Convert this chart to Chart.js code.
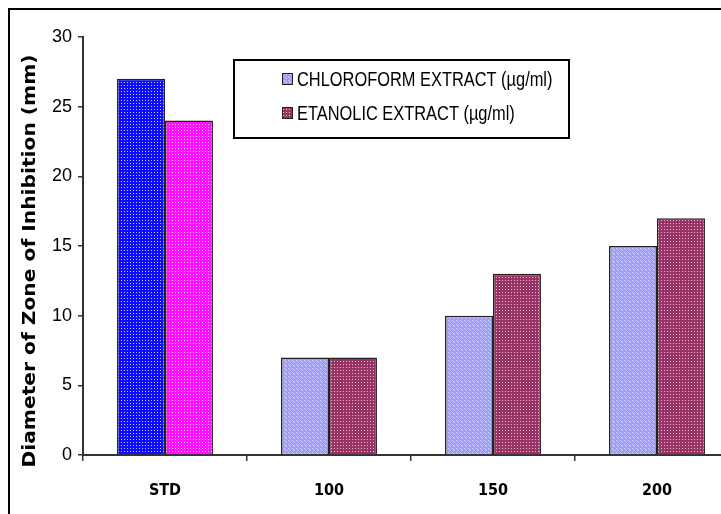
<!DOCTYPE html>
<html>
<head>
<meta charset="utf-8">
<script src="https://cdn.jsdelivr.net/npm/chart.js@4/dist/chart.umd.min.js"></script>
<style>
  html, body { margin: 0; padding: 0; background: #fff; overflow: hidden; width: 721px; height: 514px; }
  #frame { position: absolute; left: 8px; top: 8px; width: 800px; height: 600px; border: 2px solid #000; box-sizing: border-box; }
  #wrap { position: absolute; left: 0; top: 0; width: 745px; height: 514px; }
</style>
</head>
<body>
<div id="frame"></div>
<div id="wrap"><canvas id="c" width="745" height="514"></canvas></div>
<script>
// ---- data ----
const categories = ['STD', '100', '150', '200'];
const chloroformValues = [27, 7, 10, 15];
const ethanolicValues = [24, 7, 13, 17];
const seriesLabels = ['CHLOROFORM EXTRACT (\u00b5g/ml)', 'ETANOLIC EXTRACT (\u00b5g/ml)'];
const yTicks = [0, 5, 10, 15, 20, 25, 30];
const yTitle = 'Diameter of Zone of Inhibition (mm)';

// ---- styles ----
const SANS = "'Liberation Sans', Arial, sans-serif";
const COND = "'DejaVu Sans Condensed', 'DejaVu Sans', sans-serif";

function makePattern(base, dot, size, dots) {
  const c = document.createElement('canvas');
  c.width = size; c.height = size;
  const x = c.getContext('2d');
  x.fillStyle = base; x.fillRect(0, 0, size, size);
  x.fillStyle = dot;
  dots.forEach(([px, py]) => x.fillRect(px, py, 1, 1));
  return x.createPattern(c, 'repeat');
}
const pBlue = makePattern('#0c0cff', '#c8c8ff', 3, [[1, 1]]);
const pMagenta = makePattern('#ff10ff', '#ffc0ff', 3, [[1, 1]]);
const pLavender = makePattern('#9c9cff', '#d4d4ff', 4, [[0, 0], [2, 2], [1, 1]]);
const pMaroon = makePattern('#993366', '#e8bcd0', 3, [[1, 1]]);

const chloroColors = [pBlue, pLavender, pLavender, pLavender];
const ethColors = [pMagenta, pMaroon, pMaroon, pMaroon];
const legendSwatches = [pLavender, pMaroon];

const overlay = {
  id: 'overlay',
  afterDraw(chart) {
    const ctx = chart.ctx;
    // y-axis title
    ctx.save();
    ctx.font = "bold 17px 'DejaVu Sans', sans-serif";
    const w = ctx.measureText(yTitle).width;
    ctx.translate(31, 261);
    ctx.rotate(-Math.PI / 2);
    ctx.scale(413 / w, 1);
    ctx.fillStyle = '#000';
    ctx.textAlign = 'center';
    ctx.textBaseline = 'middle';
    ctx.fillText(yTitle, 0, 0);
    ctx.restore();

    // legend box
    ctx.save();
    ctx.fillStyle = '#fff';
    ctx.fillRect(234, 60, 335, 78);
    ctx.strokeStyle = '#000';
    ctx.lineWidth = 2;
    ctx.strokeRect(234, 60, 335, 78);
    const rows = [79, 113];
    seriesLabels.forEach((lab, i) => {
      ctx.fillStyle = legendSwatches[i];
      ctx.fillRect(282, rows[i] - 6, 11, 12);
      ctx.strokeStyle = '#222';
      ctx.lineWidth = 1;
      ctx.strokeRect(282.5, rows[i] - 5.5, 10, 11);
      ctx.save();
      ctx.translate(297, rows[i] + 1);
      ctx.scale(0.82, 1);
      ctx.font = '20px ' + SANS;
      ctx.textBaseline = 'middle';
      ctx.textAlign = 'left';
      ctx.fillStyle = '#000';
      ctx.fillText(lab, 0, 0);
      ctx.restore();
    });
    ctx.restore();
  }
};

new Chart(document.getElementById('c'), {
  type: 'bar',
  data: {
    labels: categories,
    datasets: [
      { label: seriesLabels[0], data: chloroformValues, backgroundColor: chloroColors,
        borderColor: '#222', borderWidth: 1.5 },
      { label: seriesLabels[1], data: ethanolicValues, backgroundColor: ethColors,
        borderColor: '#222', borderWidth: 1.5 }
    ]
  },
  options: {
    responsive: false,
    animation: false,
    devicePixelRatio: 1,
    layout: { padding: { top: 37, left: 0, right: 6, bottom: 0 } },
    datasets: { bar: { barPercentage: 1.0, categoryPercentage: 0.585 } },
    plugins: { legend: { display: false }, tooltip: { enabled: false } },
    scales: {
      x: {
        offset: true,
        grid: { display: true, drawOnChartArea: false, drawTicks: true, tickLength: 6, offset: true, color: '#333', lineWidth: 1.5 },
        border: { display: true, color: '#333', width: 2 },
        ticks: { color: '#000', padding: 20, font: { family: COND, size: 16, weight: 'bold' } },
        afterFit(s) { s.height = 59; }
      },
      y: {
        min: 0, max: 30,
        afterBuildTicks(s) { s.ticks = yTicks.map(v => ({ value: v })); },
        grid: { display: true, drawOnChartArea: false, drawTicks: true, tickLength: 5, color: '#333', lineWidth: 1.5 },
        border: { display: true, color: '#333', width: 2 },
        ticks: { color: '#000', padding: 6, font: { family: SANS, size: 18 } },
        title: { display: false },
        afterFit(s) { s.width = 83; }
      }
    }
  },
  plugins: [overlay]
});
</script>
</body>
</html>
